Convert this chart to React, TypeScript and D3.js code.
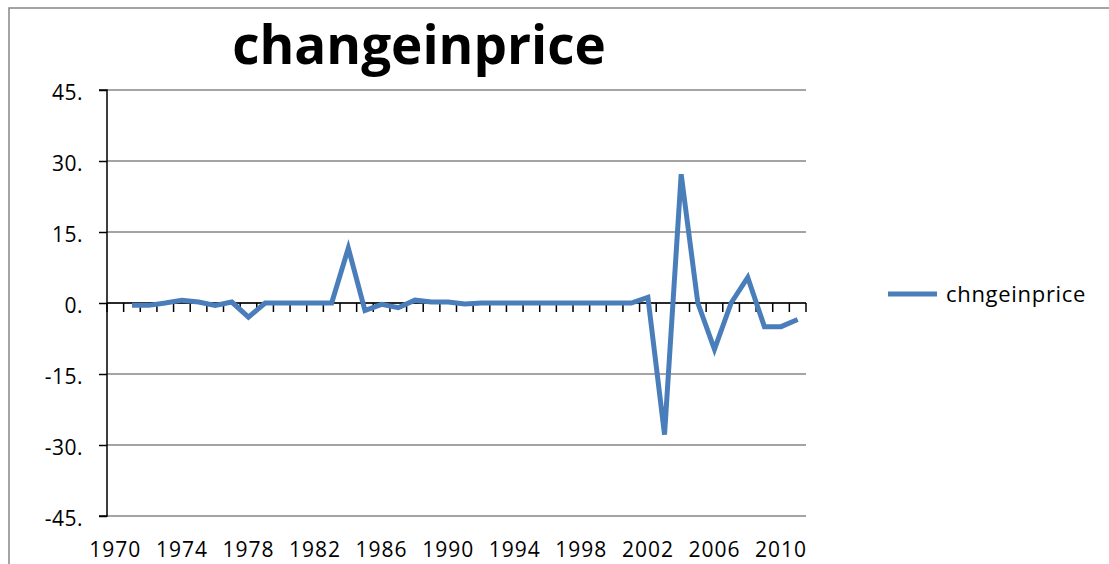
import React, { useEffect, useRef } from "react";
import * as d3 from "d3";

const years: number[] = d3.range(1970, 2012);
const changeInPrice: (number | null)[] = [
  null, -0.5, -0.5, 0, 0.6, 0.2, -0.5, 0.2, -3.0, 0,
  0, 0, 0, 0, 11.6, -1.6, -0.3, -1.0, 0.6, 0.2,
  0.2, -0.2, 0, 0, 0, 0, 0, 0, 0, 0,
  0, 0, 1.2, -27.8, 27.2, 0, -9.8, 0, 5.4, -5.0,
  -5.0, -3.5,
];
const yTicks: number[] = [-45, -30, -15, 0, 15, 30, 45];
const xLabelYears: number[] = d3.range(1970, 2011, 4);
const seriesName = "chngeinprice";
const title = "changeinprice";

function App() {
  const ref = useRef<SVGSVGElement>(null);

  useEffect(() => {
    const W = 1109;
    const H = 564;
    const svg = d3.select(ref.current).attr("width", W).attr("height", H);
    svg.selectAll("*").remove();
    const font = "'Open Sans', sans-serif";
    const blue = "#4a7ebb";
    const grid = "#868686";

    // chart border (runs off the right and bottom edges)
    svg.append("rect").attr("x", 9).attr("y", 8).attr("width", 1110).attr("height", 570)
      .attr("fill", "#fff").attr("stroke", grid).attr("stroke-width", 1.5);

    const x = d3.scaleBand<number>().domain(years).range([107, 806]);
    const y = d3.scaleLinear().domain([-45, 45]).range([516, 90]);

    // gridlines
    svg.append("g").selectAll("line").data(yTicks).join("line")
      .attr("x1", 107).attr("x2", 806)
      .attr("y1", d => y(d)).attr("y2", d => y(d))
      .attr("stroke", grid).attr("stroke-width", 1.5);

    // y axis
    const yAxis = d3.axisLeft(y).tickValues(yTicks).tickSize(8).tickFormat(d => `${d}.`);
    const ya = svg.append("g").attr("transform", "translate(107,0)").call(yAxis);
    ya.select(".domain").attr("stroke", "#000").attr("stroke-width", 1.5).attr("d", `M-8,${y(45)}H0V${y(-45)}H-8`);
    ya.selectAll(".tick line").attr("stroke", "#000").attr("stroke-width", 1.5);
    ya.selectAll(".tick text").attr("x", -24).attr("dy", "0.45em")
      .style("font-family", font).style("font-size", "21px").style("letter-spacing", "0.5px").attr("fill", "#000");

    // x axis along zero with ticks between categories
    const bounds = years.map(d => x(d) as number).concat([806]);
    const xa = svg.append("g");
    xa.append("line").attr("x1", 107).attr("x2", 806).attr("y1", y(0)).attr("y2", y(0))
      .attr("stroke", "#000").attr("stroke-width", 1.5);
    xa.selectAll("line.tk").data(bounds).join("line").attr("class", "tk")
      .attr("x1", d => d).attr("x2", d => d).attr("y1", y(0)).attr("y2", y(0) + 9)
      .attr("stroke", "#000").attr("stroke-width", 1.5);

    // category labels, low position
    svg.append("g").selectAll("text").data(xLabelYears).join("text")
      .attr("x", d => (x(d) as number) + x.bandwidth() / 2).attr("y", 557)
      .attr("text-anchor", "middle").style("font-family", font).style("font-size", "21px")
      .style("letter-spacing", "1px").text(d => d);

    // series line
    const pts = years.map((yr, i) => ({ yr, v: changeInPrice[i] }));
    const line = d3.line<{ yr: number; v: number | null }>()
      .defined(d => d.v !== null)
      .x(d => (x(d.yr) as number) + x.bandwidth() / 2)
      .y(d => y(d.v as number));
    svg.append("path").datum(pts).attr("d", line).attr("fill", "none")
      .attr("stroke", blue).attr("stroke-width", 5);

    // title
    svg.append("text").attr("x", 419).attr("y", 64).attr("text-anchor", "middle")
      .style("font-family", font).style("font-weight", "bold").style("font-size", "53px")
      .text(title);

    // legend
    svg.append("line").attr("x1", 888).attr("x2", 937).attr("y1", 294).attr("y2", 294)
      .attr("stroke", blue).attr("stroke-width", 5);
    svg.append("text").attr("x", 946).attr("y", 302).style("font-family", font)
      .style("font-size", "22px").style("letter-spacing", "0.7px").text(seriesName);
  }, []);

  return <svg ref={ref} style={{ position: "absolute", left: 0, top: 0 }} />;
}

export default App;
